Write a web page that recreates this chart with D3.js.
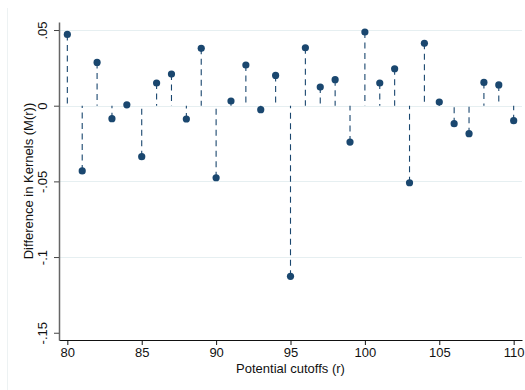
<!DOCTYPE html>
<html>
<head>
<meta charset="utf-8">
<script src="https://cdn.jsdelivr.net/npm/d3@7"></script>
<style>
  body { margin: 0; background: #fff; }
  svg { display: block; font-family: "Liberation Sans", Arial, sans-serif; }
</style>
</head>
<body>
<svg id="chart" width="525" height="390"></svg>
<script>
const cutoffs = d3.range(80, 111);
const diffs = [
  0.0471, -0.0431, 0.0286, -0.0086, 0.0006, -0.0337, 0.0150, 0.0209,
  -0.0088, 0.0379, -0.0476, 0.0031, 0.0269, -0.0026, 0.0200, -0.1127,
  0.0383, 0.0123, 0.0172, -0.0240, 0.0487, 0.0150, 0.0244, -0.0509,
  0.0412, 0.0024, -0.0119, -0.0185, 0.0154, 0.0137, -0.0099
];
const xTicks = [80, 85, 90, 95, 100, 105, 110];
const yTicks = [0.05, 0, -0.05, -0.1, -0.15];
const yTickLabels = [".05", "0", "-.05", "-.1", "-.15"];
const gridValues = [0.05, 0, -0.05, -0.1];

const data = cutoffs.map((r, i) => ({ r, m: diffs[i] }));

const svg = d3.select("#chart");
const plotL = 59, plotR = 522, plotT = 22, plotB = 340;
const navy = "#1a476f";

// plot region is padded a little beyond the first/last tick, like Stata
const x = d3.scaleLinear().domain([79.44, 110.56]).range([plotL, plotR]);
const y = d3.scaleLinear().domain([-0.1548, 0.0553]).range([plotB, plotT]);

// faint outer graph-region edge
svg.append("line")
  .attr("x1", 7.5).attr("x2", 7.5).attr("y1", 8).attr("y2", 390)
  .attr("stroke", "#edf2f3").attr("stroke-width", 1);

// gridlines
svg.append("g")
  .selectAll("line")
  .data(gridValues)
  .join("line")
  .attr("x1", plotL).attr("x2", plotR)
  .attr("y1", d => Math.round(y(d)) + 0.5)
  .attr("y2", d => Math.round(y(d)) + 0.5)
  .attr("stroke", "#e6eff1")
  .attr("stroke-width", 1.2);

// dashed drop lines to zero
svg.append("g")
  .selectAll("line")
  .data(data)
  .join("line")
  .attr("x1", d => x(d.r)).attr("x2", d => x(d.r))
  .attr("y1", d => y(d.m)).attr("y2", y(0))
  .attr("stroke", navy)
  .attr("stroke-width", 1.1)
  .attr("stroke-dasharray", "6,4.5");

svg.append("g")
  .selectAll("circle")
  .data(data)
  .join("circle")
  .attr("cx", d => x(d.r))
  .attr("cy", d => y(d.m))
  .attr("r", 3.6)
  .attr("fill", navy);

// axes
const xAxis = svg.append("g")
  .attr("transform", `translate(0,${plotB})`)
  .call(d3.axisBottom(x).tickValues(xTicks).tickSize(5).tickSizeOuter(0).tickFormat(d3.format("d")));
xAxis.select(".domain").attr("stroke", "#111").attr("stroke-width", 1.2);
xAxis.selectAll(".tick line").attr("stroke", "#111");
xAxis.selectAll(".tick text")
  .attr("font-size", 13).attr("font-family", "Liberation Sans, Arial, sans-serif")
  .attr("fill", "#111");

const yAxis = svg.append("g")
  .attr("transform", `translate(${plotL},0)`)
  .call(d3.axisLeft(y).tickValues(yTicks).tickSize(5).tickSizeOuter(0)
    .tickFormat((d, i) => yTickLabels[i]));
yAxis.select(".domain").attr("stroke", "#666").attr("stroke-width", 1.5);
yAxis.selectAll(".tick line").attr("stroke", "#444");
yAxis.selectAll(".tick text")
  .attr("font-size", 13).attr("font-family", "Liberation Sans, Arial, sans-serif")
  .attr("fill", "#111")
  .attr("x", null).attr("dy", null)
  .attr("text-anchor", "middle")
  .attr("transform", "translate(-12,0) rotate(-90)");

// axis titles
svg.append("text")
  .attr("x", (plotL + plotR) / 2)
  .attr("y", 373)
  .attr("text-anchor", "middle")
  .attr("font-size", 13)
  .attr("fill", "#111")
  .text("Potential cutoffs (r)");

svg.append("text")
  .attr("transform", `translate(33,${(plotT + plotB) / 2}) rotate(-90)`)
  .attr("text-anchor", "middle")
  .attr("font-size", 13)
  .attr("fill", "#111")
  .text("Difference in Kernels (M(r))");
</script>
</body>
</html>
